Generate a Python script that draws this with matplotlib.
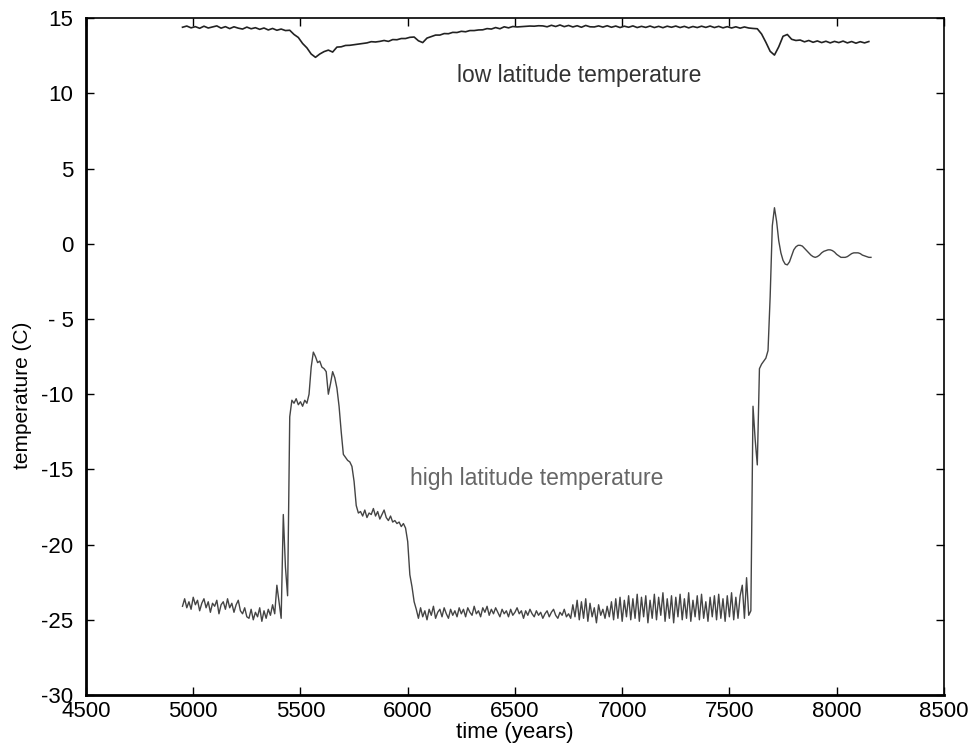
import matplotlib.pyplot as plt
import numpy as np

plt.rcParams['font.family'] = ['Liberation Sans', 'DejaVu Sans']
plt.rcParams['axes.unicode_minus'] = False

# low latitude temperature, one value every 20 years from 4950
low_start, low_step = 4950, 20
low_temp = [
    14.40, 14.48, 14.36, 14.44, 14.33, 14.47, 14.35, 14.42, 14.49, 14.34,
    14.44, 14.31, 14.43, 14.34, 14.28, 14.41, 14.30, 14.37, 14.26, 14.35,
    14.22, 14.32, 14.20, 14.28, 14.18, 14.20, 13.92, 13.72, 13.32, 13.03,
    12.62, 12.40, 12.62, 12.78, 12.88, 12.75, 13.08, 13.10, 13.19, 13.20,
    13.24, 13.28, 13.32, 13.36, 13.44, 13.42, 13.46, 13.52, 13.46, 13.58,
    13.57, 13.65, 13.65, 13.73, 13.75, 13.50, 13.38, 13.68, 13.78, 13.88,
    13.88, 13.98, 13.97, 14.06, 14.05, 14.13, 14.10, 14.18, 14.18, 14.22,
    14.23, 14.31, 14.28, 14.38, 14.30, 14.43, 14.36, 14.45, 14.42, 14.44,
    14.46, 14.48, 14.47, 14.50, 14.49, 14.43, 14.53, 14.45, 14.55, 14.44,
    14.52, 14.42, 14.50, 14.40, 14.52, 14.43, 14.42, 14.49, 14.41, 14.50,
    14.40, 14.48, 14.38, 14.47, 14.40, 14.49, 14.38, 14.46, 14.39, 14.48,
    14.38, 14.46, 14.37, 14.47, 14.40, 14.48, 14.38, 14.46, 14.36, 14.45,
    14.38, 14.47, 14.39, 14.48, 14.38, 14.46, 14.36, 14.44, 14.35, 14.43,
    14.34, 14.42, 14.35, 14.32, 14.30, 13.95, 13.40, 12.80, 12.55, 13.10,
    13.80, 13.92, 13.60, 13.52, 13.55, 13.43, 13.52, 13.40, 13.49, 13.38,
    13.47, 13.36, 13.46, 13.38, 13.48, 13.36, 13.45, 13.34, 13.44, 13.36,
    13.45,
]

# high latitude temperature, one value every 10 years from 4950
high_start, high_step = 4950, 10
high_temp = [
    -24.1, -23.6, -24.2, -23.8, -24.3, -23.5, -24.0, -23.7, -24.4, -23.9,  # 4950
    -23.6, -24.2, -23.8, -24.5, -23.9, -24.1, -23.7, -24.6, -24.0, -23.8,  # 5050
    -24.3, -23.6, -24.2, -23.9, -24.5, -24.0, -23.7, -24.4, -24.6, -24.2,  # 5150
    -24.8, -24.9, -24.3, -25.0, -24.5, -24.8, -24.2, -25.1, -24.4, -24.9,  # 5250
    -24.3, -24.7, -24.0, -24.6, -22.7, -23.8, -24.9, -18.0, -21.5, -23.4,  # 5350
    -11.5, -10.4, -10.6, -10.3, -10.7, -10.5, -10.8, -10.4, -10.6, -10.0,  # 5450
    -8.2, -7.2, -7.5, -7.9, -7.8, -8.2, -8.3, -8.5, -10.0, -9.3,           # 5550
    -8.5, -8.9, -9.6, -10.8, -12.5, -14.0, -14.2, -14.4, -14.5, -14.8,     # 5650
    -15.8, -17.4, -17.9, -17.8, -18.1, -17.7, -18.2, -17.9, -18.0, -17.6,  # 5750
    -18.1, -17.8, -18.3, -18.0, -17.7, -18.2, -18.4, -18.1, -18.5, -18.4,  # 5850
    -18.6, -18.5, -18.8, -18.6, -18.9, -19.8, -22.0, -22.8, -23.8, -24.3,  # 5950
    -24.9, -24.2, -24.8, -24.4, -25.0, -24.3, -24.7, -24.1, -24.9, -24.5,  # 6050
    -24.3, -24.8, -24.2, -24.6, -24.9, -24.3, -24.7, -24.4, -24.8, -24.2,  # 6150
    -24.6, -24.3, -24.8, -24.2, -24.5, -24.7, -24.1, -24.6, -24.4, -24.8,  # 6250
    -24.2, -24.5, -24.1, -24.7, -24.3, -24.6, -24.2, -24.5, -24.8, -24.3,  # 6350
    -24.6, -24.4, -24.8, -24.3, -24.7, -24.5, -24.2, -24.6, -24.4, -24.9,  # 6450
    -24.4, -24.7, -24.3, -24.6, -24.8, -24.4, -24.7, -24.5, -24.9, -24.6,  # 6550
    -24.4, -24.8, -24.5, -24.3, -24.7, -24.9, -24.5, -24.7, -24.3, -24.8,  # 6650
    -24.6, -24.9, -24.0, -24.8, -23.7, -25.0, -23.8, -24.9, -23.6, -25.1,  # 6750
    -23.9, -24.8, -24.2, -25.2, -24.0, -24.7, -24.3, -24.9, -24.1, -24.8,  # 6850
    -23.8, -25.0, -23.6, -24.9, -23.5, -25.1, -23.7, -24.8, -23.4, -25.0,  # 6950
    -23.6, -24.9, -23.3, -25.1, -23.5, -24.8, -23.4, -25.2, -23.7, -24.9,  # 7050
    -23.3, -25.0, -23.5, -24.7, -23.2, -25.1, -23.6, -24.9, -23.4, -25.2,  # 7150
    -23.5, -24.8, -23.3, -25.0, -23.6, -24.9, -23.2, -25.1, -23.7, -24.8,  # 7250
    -23.4, -25.0, -23.3, -24.9, -23.8, -25.1, -23.5, -24.8, -23.4, -25.0,  # 7350
    -23.3, -24.9, -23.6, -25.1, -23.4, -24.8, -23.2, -25.0, -23.5, -24.9,  # 7450
    -23.4, -22.7, -24.9, -22.2, -24.7, -24.4, -10.8, -13.0, -14.7, -8.3,   # 7550
    -8.0, -7.8, -7.6, -7.1, -3.5, 1.2, 2.4, 1.5, 0.2, -0.6,                # 7650
    -1.1, -1.35, -1.4, -1.2, -0.8, -0.4, -0.2, -0.1, -0.1, -0.15,          # 7750
    -0.3, -0.45, -0.6, -0.75, -0.85, -0.9, -0.85, -0.75, -0.6, -0.5,       # 7850
    -0.45, -0.4, -0.4, -0.45, -0.55, -0.7, -0.8, -0.9, -0.9, -0.9,         # 7950
    -0.85, -0.75, -0.65, -0.6, -0.6, -0.6, -0.65, -0.75, -0.8, -0.85,      # 8050
    -0.9, -0.9,                                                            # 8150
]

xticks = [4500, 5000, 5500, 6000, 6500, 7000, 7500, 8000, 8500]
yticks = [-30, -25, -20, -15, -10, -5, 0, 5, 10, 15]
ytick_labels = ['-30', '-25', '-20', '-15', '-10', '- 5', '0', '5', '10', '15']

low_years = low_start + low_step * np.arange(len(low_temp))
high_years = high_start + high_step * np.arange(len(high_temp))

fig = plt.figure(figsize=(9.76, 7.47), dpi=100)
ax = fig.add_axes([0.0881, 0.0696, 0.879, 0.906])

ax.plot(low_years, low_temp, color='#222222', lw=1.2)
ax.plot(high_years, high_temp, color='#444444', lw=1.0)

ax.text(6800, 11.2, 'low latitude temperature', color='#333333',
        fontsize=16.5, ha='center', va='center')
ax.text(6600, -15.6, 'high latitude temperature', color='#666666',
        fontsize=16.5, ha='center', va='center')

ax.set_xlim(4500, 8500)
ax.set_ylim(-30, 15)
ax.set_xticks(xticks)
ax.set_yticks(yticks)
ax.set_yticklabels(ytick_labels)
ax.tick_params(direction='in', length=6, width=1, top=True, right=True)
ax.tick_params(axis='x', labelsize=16, pad=4)
ax.tick_params(axis='y', labelsize=16, pad=9)
for side in ['left', 'bottom']:
    ax.spines[side].set_linewidth(2)
for side in ['top', 'right']:
    ax.spines[side].set_linewidth(1.2)

ax.set_xlabel('time (years)', fontsize=16)
ax.set_ylabel('temperature (C)', fontsize=15)
ax.xaxis.set_label_coords(0.5, -0.040)
ax.yaxis.set_label_coords(-0.063, 0.443)

plt.savefig('out.png', dpi=100)
